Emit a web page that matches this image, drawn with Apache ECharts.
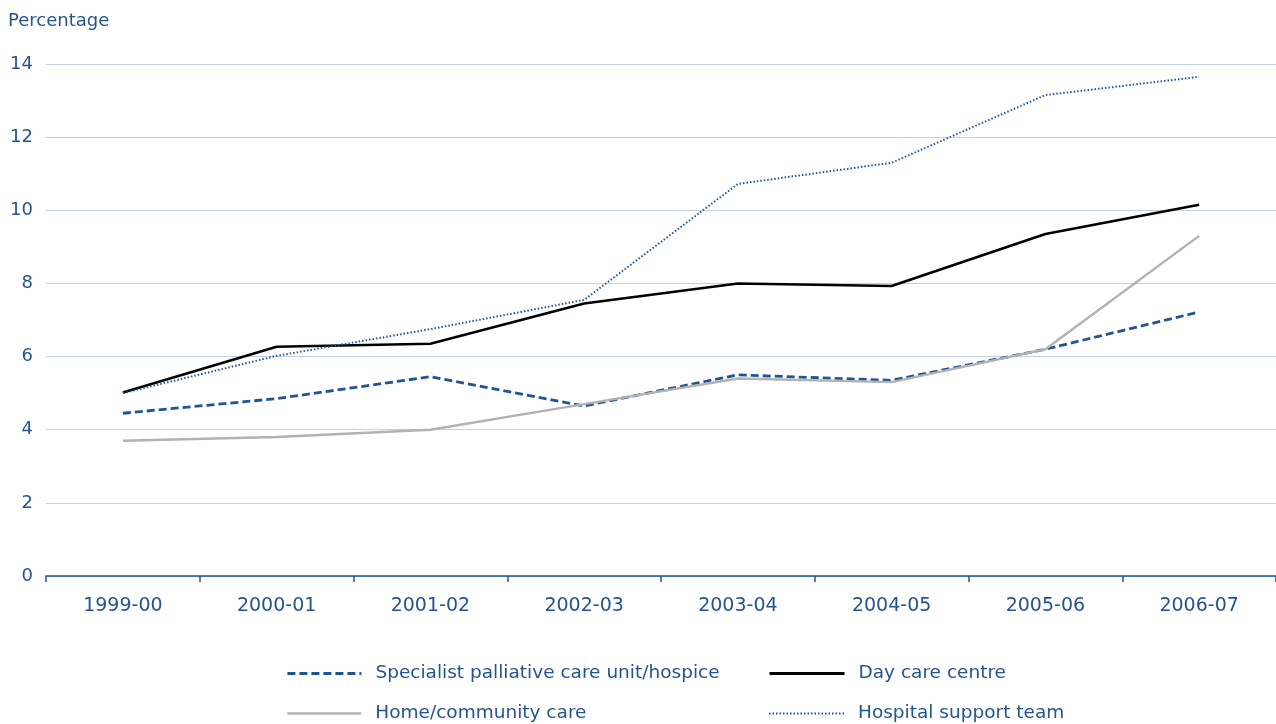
<!DOCTYPE html>
<html>
<head>
<meta charset="utf-8">
<script src="https://cdn.jsdelivr.net/npm/echarts@6/dist/echarts.min.js"></script>
<style>
  html,body{margin:0;padding:0;background:#fff;}
  #chart{width:1276px;height:724px;}
</style>
</head>
<body>
<div id="chart"></div>
<script>
// data
const years = ['1999-00','2000-01','2001-02','2002-03','2003-04','2004-05','2005-06','2006-07']
const specialist = [4.45, 4.85, 5.45, 4.65, 5.5, 5.35, 6.2, 7.22]
const dayCare = [5.02, 6.27, 6.35, 7.45, 8.0, 7.93, 9.35, 10.15]
const homeCare = [3.7, 3.8, 4.0, 4.7, 5.4, 5.3, 6.2, 9.3]
const hospital = [5.0, 6.02, 6.75, 7.55, 10.72, 11.3, 13.15, 13.65]
const yTicks = [0, 2, 4, 6, 8, 10, 12, 14]

const blue = '#1f5596'
const txt = '#25558f'
const font = 'DejaVu Sans'

const chart = echarts.init(document.getElementById('chart'))

//单个图例
function legendItem(name, left, top, w, lw, type){
  return {
    data:[name],
    left:left, top:top,
    padding:0,
    itemWidth:w, itemHeight:12,
    itemStyle:{opacity:0},
    lineStyle:{width:lw, type:type},
    textStyle:{color:txt, fontSize:18.5, fontFamily:font, padding:[0,0,0,9]},
    selectedMode:false
  }
}

const option = {
  animation:false,
  title:{
    text:'Percentage',
    left:8, top:12, padding:0,
    textStyle:{color:txt, fontSize:18, fontWeight:'normal', fontFamily:font}
  },
  grid:{left:46, right:0, top:64, bottom:148, containLabel:false},
  legend:[
    legendItem('Specialist palliative care unit/hospice', 286, 664, 74, 2.8, [8,4]),
    legendItem('Day care centre', 768, 664, 75, 3, 'solid'),
    legendItem('Home/community care', 286, 704, 74, 2.6, 'solid'),
    legendItem('Hospital support team', 768, 704, 75, 2, [1.5,2])
  ],
  xAxis:{
    type:'category',
    data:years,
    boundaryGap:true,
    axisLine:{lineStyle:{color:blue, width:1.5}},
    axisTick:{show:true, length:6, lineStyle:{color:blue, width:1.5}},
    axisLabel:{color:txt, fontSize:19, fontFamily:font, margin:21}
  },
  yAxis:{
    type:'value',
    min:0, max:14, interval:2,
    axisLine:{show:false},
    axisTick:{show:false},
    axisLabel:{
      color:txt, fontSize:18, fontFamily:font, margin:13,
      formatter:(v)=>yTicks.includes(v) ? String(v) : ''
    },
    splitLine:{lineStyle:{color:'#c3d1e2', width:1.2}}
  },
  series:[
    {
      name:'Specialist palliative care unit/hospice',
      type:'line', data:specialist, symbol:'none',
      lineStyle:{color:blue, width:2.8, type:[8,4]},
      itemStyle:{color:blue}
    },
    {
      name:'Day care centre',
      type:'line', data:dayCare, symbol:'none',
      lineStyle:{color:'#000', width:2.6},
      itemStyle:{color:'#000'}
    },
    {
      name:'Home/community care',
      type:'line', data:homeCare, symbol:'none',
      lineStyle:{color:'#b2b2b2', width:2.4},
      itemStyle:{color:'#b2b2b2'}
    },
    {
      name:'Hospital support team',
      type:'line', data:hospital, symbol:'none',
      lineStyle:{color:blue, width:2, type:[1.5,2]},
      itemStyle:{color:blue}
    }
  ]
}
chart.setOption(option)
</script>
</body>
</html>
